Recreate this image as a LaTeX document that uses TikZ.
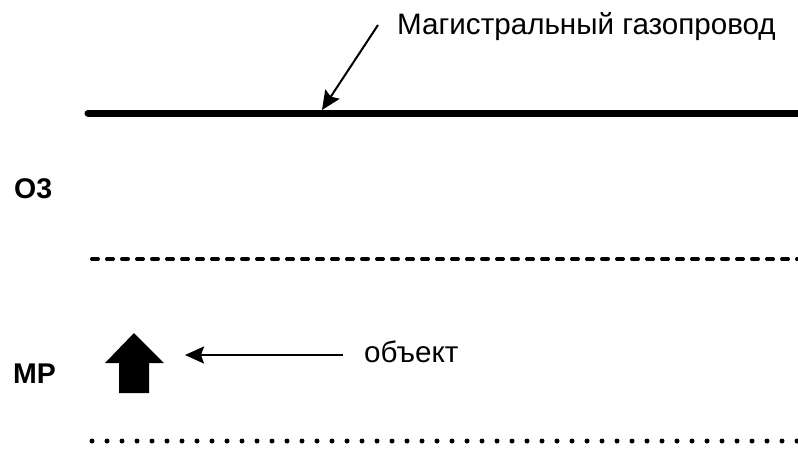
\documentclass[tikz,border=0pt]{standalone}
\usepackage{fontspec}
\setmainfont{Liberation Sans}
\usetikzlibrary{arrows.meta}
\tikzset{
  lbl/.style={inner sep=0pt,font=\fontsize{29.6}{34}\selectfont},
  zonelbl/.style={inner sep=0pt,font=\fontsize{28.5}{33}\selectfont\bfseries},
  pointer/.style={line width=2pt,-{Stealth[length=19pt,width=17pt,inset=3pt]}}
}
\begin{document}
\begin{tikzpicture}[x=1pt,y=-1pt]
			\useasboundingbox(0,0) rectangle (798,448);
			% pipeline and zone borders
			\draw[line width=7pt,line cap=round](88,113)--(810,113);
			\draw[line width=4pt,line cap=round,dash pattern=on 6pt off 9pt](92,259)--(810,259);
			\draw[line width=5pt,line cap=round,dash pattern=on 0pt off 15pt](92,441)--(810,441);
			\node[zonelbl,anchor=west] (oz) at(14,189){О3};
			\node[zonelbl,anchor=west] (mr) at(13,374){МР};
			% pipeline label
			\node[lbl,anchor=west] (pipelbl) at(397,27){Магистральный газопровод};
			\coordinate (pipetail) at(378,25);
			\coordinate (pipehit) at(322,110);
			\draw[pointer](pipetail)--(pipehit);
			% object
			\fill(134,333)--(164,363)--(149,363)--(149,393)--(119,393)--(119,363)--(105,363)--cycle;
			\coordinate (objtip) at(185,355);
			\node[lbl,anchor=west] (objlbl) at(364,352){объект};
			\draw[pointer]([xshift=-21pt]objlbl.west|-objtip)--(objtip);
			\end{tikzpicture}
\end{document}
